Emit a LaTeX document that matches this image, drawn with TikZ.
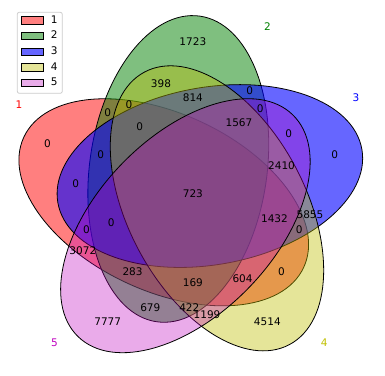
\documentclass[tikz,border=0pt]{standalone}
\usepackage{fontspec}
\setmainfont{DejaVu Sans}
\definecolor{setone}{rgb}{1,0,0}
\definecolor{settwo}{rgb}{0,0.5,0}
\definecolor{setthree}{rgb}{0,0,1}
\definecolor{setfour}{rgb}{0.75,0.75,0}
\definecolor{setfive}{rgb}{0.75,0,0.75}
\definecolor{legframe}{gray}{0.8}

\begin{document}
\begin{tikzpicture}[
    x=354.8pt, y=354.8pt,
    font=\fontsize{10.5}{12}\selectfont,
    venn/.style={draw=black, line width=0.8pt},
    cnt/.style={inner sep=0pt, yshift=1pt},
    setname/.style={inner sep=0pt, yshift=1pt},
    legpatch/.style={draw=black, line width=0.6pt},
    legbox/.style={draw=legframe, fill=white, fill opacity=0.8, line width=0.8pt, rounded corners=2pt}
  ]
\useasboundingbox (-0.03354,-0.03777) rectangle (1.05158,1.01917);

% =================== the five sets ===================
\foreach \cx/\cy/\ang/\col/\op in {0.428/0.449/155/setone/0.5,
                                   0.469/0.543/82/settwo/0.5,
                                   0.558/0.523/10/setthree/0.6,
                                   0.578/0.432/118/setfour/0.4,
                                   0.489/0.383/46/setfive/0.33}{
  \filldraw[venn, fill=\col, fill opacity=\op]
    (\cx,\cy) ellipse [x radius=0.435, y radius=0.25, rotate=\ang];
}

% =================== region counts ===================
\foreach \code/\px/\py/\val in {00001/0.27/0.11/7777, 00010/0.72/0.11/4514,
    00011/0.55/0.13/1199, 00100/0.91/0.58/0, 00101/0.78/0.64/0,
    00110/0.84/0.41/5855, 00111/0.76/0.55/2410, 01000/0.51/0.90/1723,
    01001/0.39/0.15/679, 01010/0.42/0.78/398, 01011/0.50/0.15/422,
    01100/0.67/0.76/0, 01101/0.70/0.71/0, 01110/0.51/0.74/814,
    01111/0.64/0.67/1567, 10000/0.10/0.61/0, 10001/0.20/0.31/3072,
    10010/0.76/0.25/0, 10011/0.65/0.23/604, 10100/0.18/0.50/0,
    10101/0.21/0.37/0, 10110/0.81/0.37/0, 10111/0.74/0.40/1432,
    11000/0.27/0.70/0, 11001/0.34/0.25/283, 11010/0.33/0.72/0,
    11011/0.51/0.22/169, 11100/0.25/0.58/0, 11101/0.28/0.39/0,
    11110/0.36/0.66/0, 11111/0.51/0.47/723}{
  \node[cnt] (r\code) at (\px,\py) {\val};
}

% =================== set names ===================
\node[setname, text=setone]   (name1) at (0.02,0.72) {1};
\node[setname, text=settwo]   (name2) at (0.72,0.94) {2};
\node[setname, text=setthree] (name3) at (0.97,0.74) {3};
\node[setname, text=setfour]  (name4) at (0.88,0.05) {4};
\node[setname, text=setfive]  (name5) at (0.12,0.05) {5};

% =================== legend ===================
\path[legbox] (0.0152,0.7562) rectangle (0.1420,0.9845);
\foreach \i/\col/\op in {1/setone/0.5, 2/settwo/0.5, 3/setthree/0.6,
                         4/setfour/0.4, 5/setfive/0.33}{
  \pgfmathsetmacro{\ly}{0.962-(\i-1)*0.0443}
  \filldraw[legpatch, fill=\col, fill opacity=\op]
    (0.0256,\ly-0.0103) rectangle (0.0885,\ly+0.0103);
  \node[cnt] (leg\i) at (0.1195,\ly) {\i};
}

\end{tikzpicture}
\end{document}
